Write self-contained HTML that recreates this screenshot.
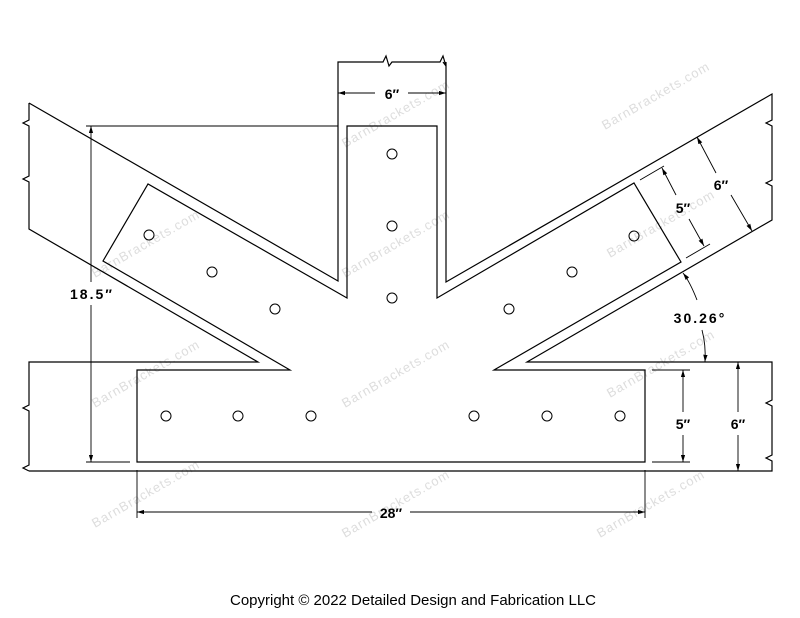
<!DOCTYPE html>
<html><head><meta charset="utf-8"><style>
html,body{margin:0;padding:0;background:#fff;}
svg{display:block}
.t{font-family:"Liberation Sans",sans-serif;font-weight:bold;font-size:14px;fill:#000}
.w{font-family:"Liberation Sans",sans-serif;font-size:13px;fill:#ddd;letter-spacing:1px}
</style></head><body>
<svg width="800" height="618" viewBox="0 0 800 618" xmlns="http://www.w3.org/2000/svg">
<defs>
<marker id="a" viewBox="0 0 10 6" refX="10" refY="3" markerWidth="8" markerHeight="5" orient="auto-start-reverse"><path d="M0,0L10,3L0,6z" fill="#000"/></marker>
</defs>
<g class="w">
<text transform="translate(95,278) rotate(-30)">BarnBrackets.com</text>
<text transform="translate(95,408) rotate(-30)">BarnBrackets.com</text>
<text transform="translate(95,528) rotate(-30)">BarnBrackets.com</text>
<text transform="translate(345,148) rotate(-30)">BarnBrackets.com</text>
<text transform="translate(345,278) rotate(-30)">BarnBrackets.com</text>
<text transform="translate(345,408) rotate(-30)">BarnBrackets.com</text>
<text transform="translate(345,538) rotate(-30)">BarnBrackets.com</text>
<text transform="translate(605,130) rotate(-30)">BarnBrackets.com</text>
<text transform="translate(610,258) rotate(-30)">BarnBrackets.com</text>
<text transform="translate(610,398) rotate(-30)">BarnBrackets.com</text>
<text transform="translate(600,538) rotate(-30)">BarnBrackets.com</text>
</g>
<g fill="none" stroke="#000" stroke-width="1.2">
<!-- timbers -->
<path d="M29,103 L338,281 L338,62 L383,62 l3,-6 l3,10 l3,-4 L440,62 l3,-6 l3,10 l-3,-4"/>
<path d="M446,62 L446,282 L772,94 L772,120 l-6,3 l6,3 L772,180 l-6,3 l6,3 L772,220 L527,362 L772,362 L772,400 l-6,3 l6,3 L772,455 l-6,3 l6,3 L772,471 L29,471"/>
<path d="M29,103 L29,120 l-6,3 l6,3 L29,176 l-6,3 l6,3 L29,229 L258,362 L29,362 L29,405 l-6,3 l6,3 L29,465 l-6,3 l6,3"/>
<!-- bracket -->
<path d="M347,126 L437,126 L437,298 L634,183 L681,262 L494,370 L645,370 L645,462 L137,462 L137,370 L290,370 L103,261 L148,184 L347,298 Z"/>
<!-- holes -->
<g stroke-width="1">
<circle cx="392" cy="154" r="5"/><circle cx="392" cy="226" r="5"/><circle cx="392" cy="298" r="5"/>
<circle cx="149" cy="235" r="5"/><circle cx="212" cy="272" r="5"/><circle cx="275" cy="309" r="5"/>
<circle cx="634" cy="236" r="5"/><circle cx="572" cy="272" r="5"/><circle cx="509" cy="309" r="5"/>
<circle cx="166" cy="416" r="5"/><circle cx="238" cy="416" r="5"/><circle cx="311" cy="416" r="5"/>
<circle cx="474" cy="416" r="5"/><circle cx="547" cy="416" r="5"/><circle cx="620" cy="416" r="5"/>
</g>
</g>
<g fill="none" stroke="#000" stroke-width="0.9">
<!-- 6in top -->
<path d="M338,93 L375,93" marker-start="url(#a)"/><path d="M408,93 L446,93" marker-end="url(#a)"/>
<!-- 18.5 -->
<path d="M86,126 L338,126"/><path d="M86,462 L130,462"/>
<path d="M91,282 L91,126" marker-end="url(#a)"/><path d="M91,305 L91,462" marker-end="url(#a)"/>
<!-- 28 -->
<path d="M137,470 L137,518"/><path d="M645,470 L645,518"/>
<path d="M137,512 L372,512" marker-start="url(#a)"/><path d="M410,512 L645,512" marker-end="url(#a)"/>
<!-- 5 right -->
<path d="M652,370 L690,370"/><path d="M652,462 L690,462"/>
<path d="M683,412 L683,370" marker-end="url(#a)"/><path d="M683,435 L683,462" marker-end="url(#a)"/>
<!-- 6 right -->
<path d="M738,412 L738,362" marker-end="url(#a)"/><path d="M738,435 L738,471" marker-end="url(#a)"/>
<!-- angled 5 -->
<path d="M640,180 L664,166"/><path d="M686,258 L710,244"/>
<path d="M676,195 L662,168" marker-end="url(#a)"/><path d="M689,219 L704,246" marker-end="url(#a)"/>
<!-- angled 6 -->
<path d="M716,173 L697,137" marker-end="url(#a)"/><path d="M731,195 L752,231" marker-end="url(#a)"/>
<!-- angle arc -->
<path d="M697,300 Q690,282 683,273" marker-end="url(#a)"/>
<path d="M702,330 Q706,345 705,362" marker-end="url(#a)"/>
</g>
<g class="t">
<text x="392" y="99" text-anchor="middle">6″</text>
<text x="92" y="299" text-anchor="middle" letter-spacing="2">18.5″</text>
<text x="391" y="518" text-anchor="middle">28″</text>
<text x="683" y="429" text-anchor="middle">5″</text>
<text x="738" y="429" text-anchor="middle">6″</text>
<text x="721" y="190" text-anchor="middle">6″</text>
<text x="683" y="213" text-anchor="middle">5″</text>
<text x="700" y="323" text-anchor="middle" letter-spacing="2">30.26°</text>
</g>
<text x="230" y="605" font-family="Liberation Sans,sans-serif" font-size="15" textLength="366" lengthAdjust="spacingAndGlyphs" fill="#000">Copyright © 2022 Detailed Design and Fabrication LLC</text>
</svg>
</body></html>
